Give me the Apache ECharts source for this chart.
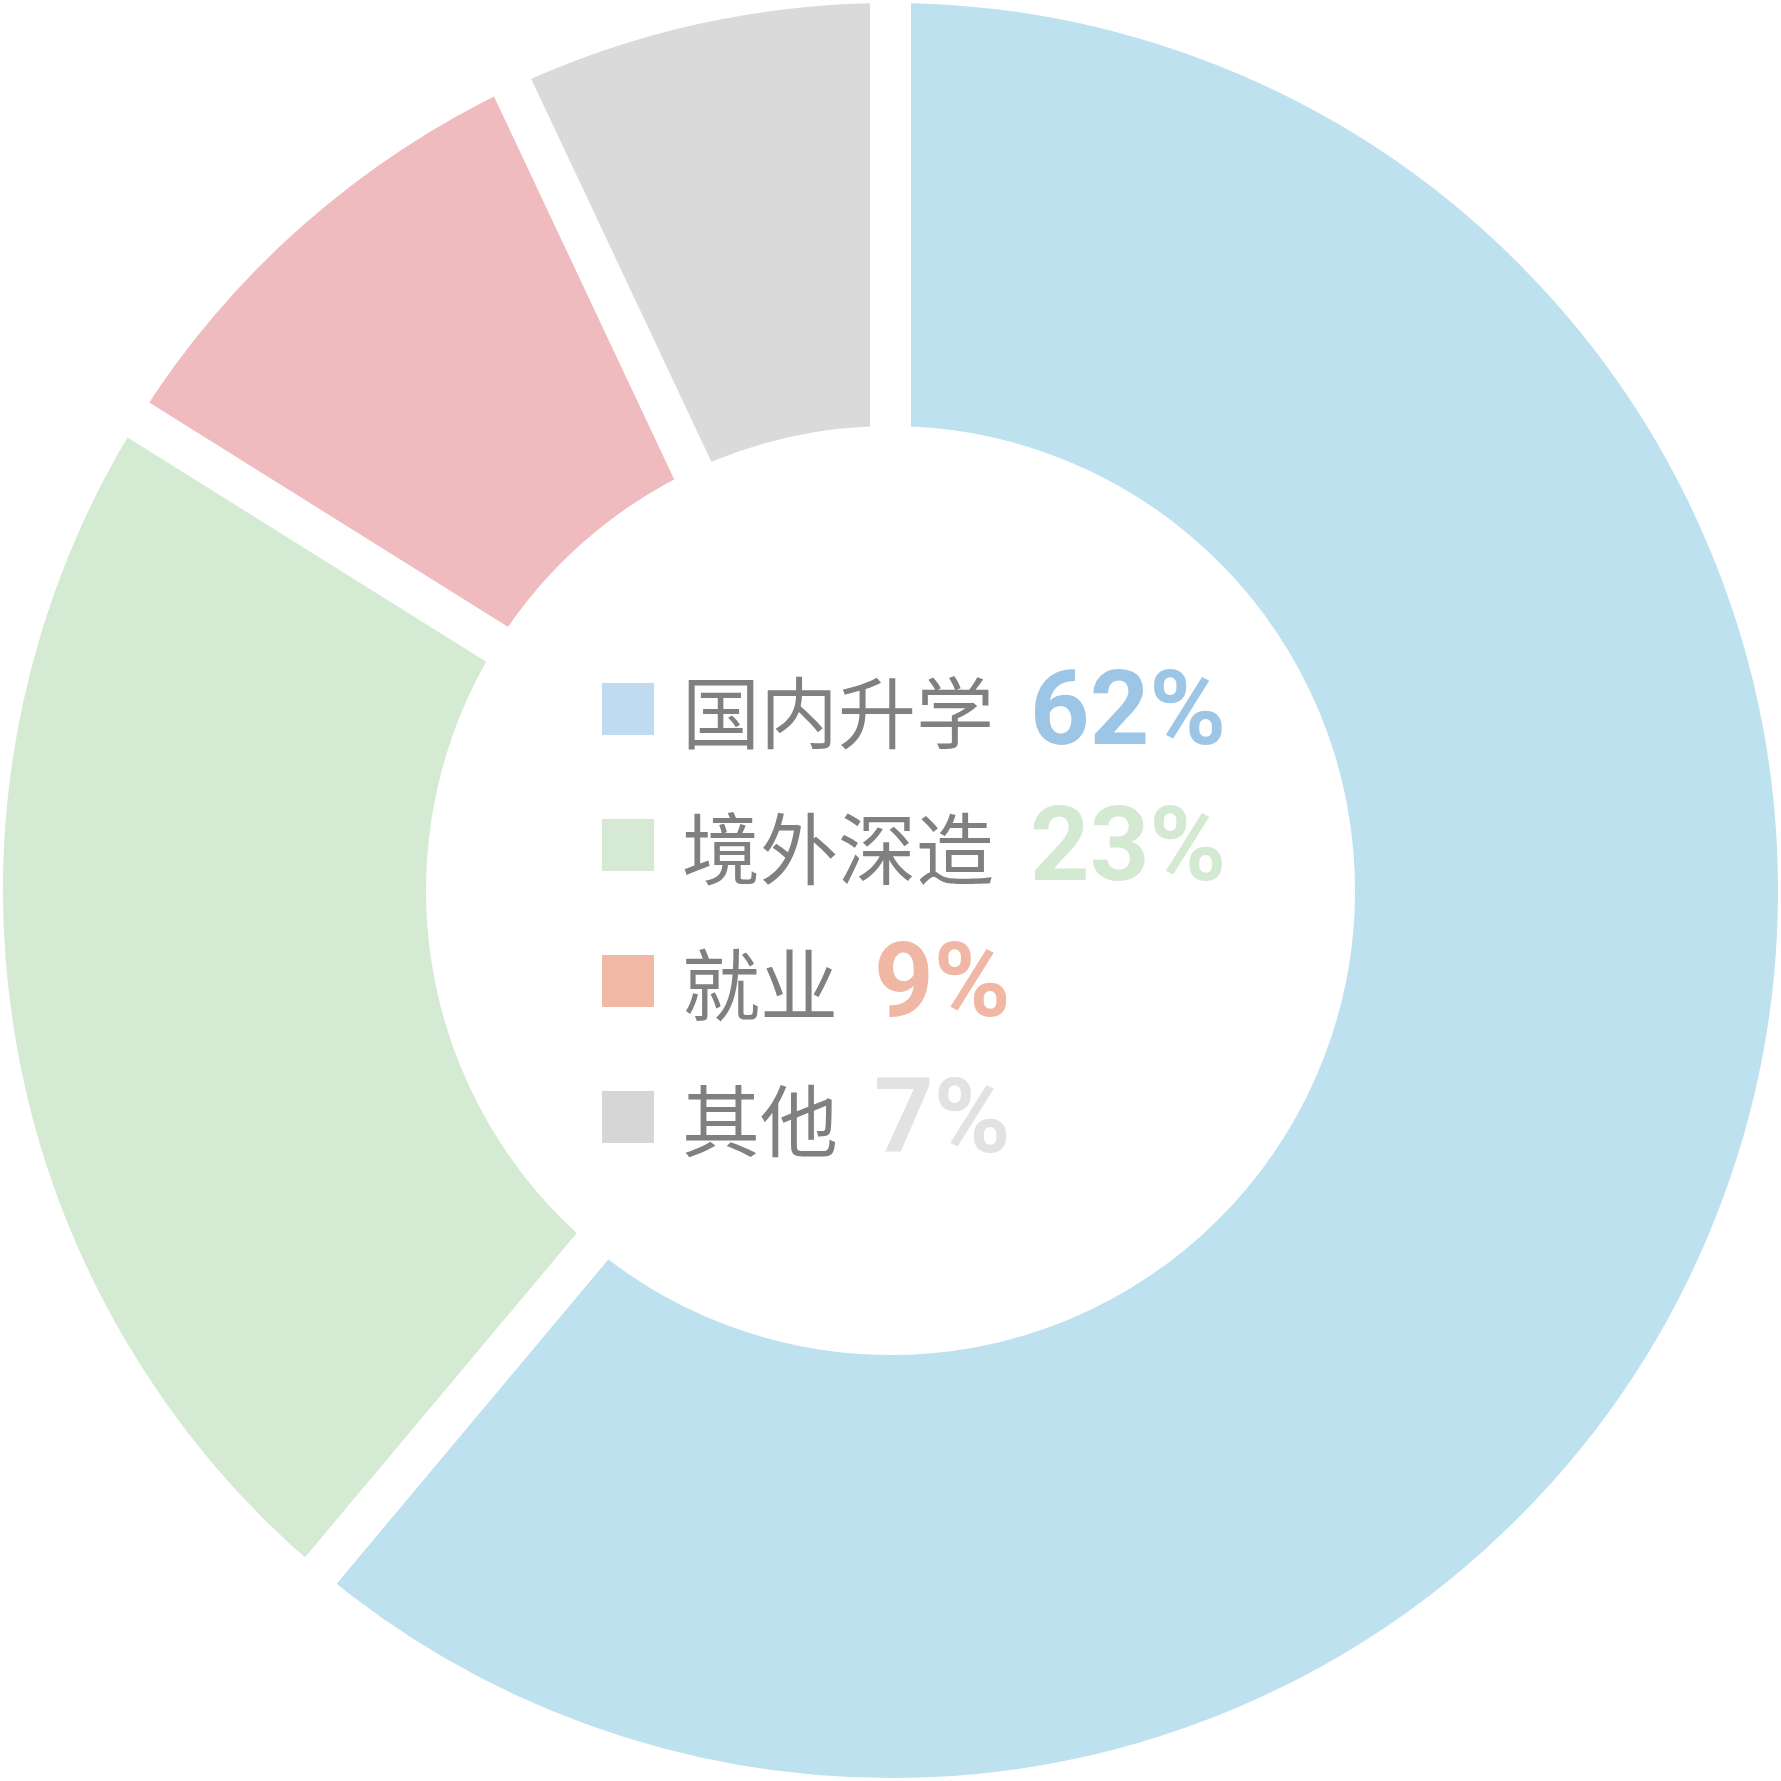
<!DOCTYPE html>
<html>
<head>
<meta charset="utf-8">
<script src="https://cdn.jsdelivr.net/npm/echarts@6/dist/echarts.min.js"></script>
<style>html,body{margin:0;padding:0;background:#fff}#c{width:1781px;height:1781px}</style>
</head>
<body>
<div id="c"></div>
<script>
const categories = ['国内升学', '境外深造', '就业', '其他'];
const values = [61.1, 22.8, 9.1, 7.0];
// percentage labels as printed in the legend
const pctLabels = ['62%', '23%', '9%', '7%'];
const sliceColors = ['#bee1f0', '#d5ead3', '#f0bbbe', '#dadada'];
const iconColors = ['#c0daf0', '#d5e9d4', '#f0b8a5', '#d6d6d6'];
const pctColors = ['#9dc6e6', '#d4e9d2', '#f0b8a4', '#e2e2e2'];

const chart = echarts.init(document.getElementById('c'));
const rich = {
  g: { width: 23 },
  n: { fontSize: 78, color: '#808080', fontFamily: 'Noto Sans CJK SC', lineHeight: 40, padding: [9, 0, 0, 0] },
  s: { width: 36 }
};
pctColors.forEach((c, i) => {
  rich['p' + i] = { fontSize: 104, fontWeight: 'bold', color: c, fontFamily: 'Roboto', lineHeight: 40, padding: [18, 0, 0, 0] };
});
chart.setOption({
  animation: false,
  legend: {
    orient: 'vertical',
    left: 602,
    top: 648,
    padding: 0,
    itemWidth: 52,
    itemHeight: 52,
    itemGap: 14,
    itemTextGap: 32,
    icon: 'rect',
    selectedMode: false,
    data: categories.map((n, i) => ({ name: n, itemStyle: { color: iconColors[i], borderWidth: 0 } })),
    formatter: function (name) {
      const i = categories.indexOf(name);
      return '{g| }{n|' + name + '}{s| }{p' + i + '|' + pctLabels[i] + '}';
    },
    textStyle: { rich: rich }
  },
  series: [{
    type: 'pie',
    center: ['50%', '50%'],
    radius: [444, 908],
    startAngle: 90,
    clockwise: true,
    silent: true,
    label: { show: false },
    labelLine: { show: false },
    itemStyle: { borderColor: '#ffffff', borderWidth: 41 },
    data: categories.map((n, i) => ({ name: n, value: values[i], itemStyle: { color: sliceColors[i] } }))
  }]
});
</script>
</body>
</html>
